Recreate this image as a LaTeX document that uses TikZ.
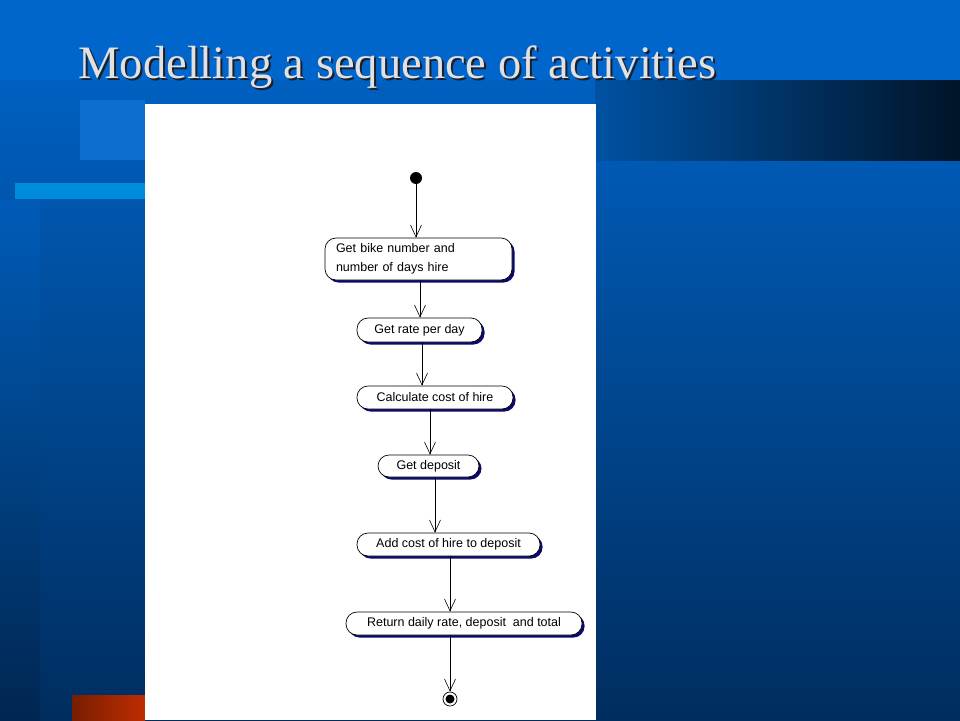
\documentclass[tikz,border=0pt]{standalone}
\usepackage{fontspec}
\setmainfont{Liberation Sans}
\newfontfamily\titlefont{Liberation Serif}
\usetikzlibrary{arrows.meta,shadows,positioning}
\definecolor{bgtop}{RGB}{0,102,204}
\definecolor{bgbot}{RGB}{0,45,95}
\definecolor{navy}{RGB}{10,10,110}
\definecolor{barend}{RGB}{0,20,40}
\definecolor{lightbar}{RGB}{0,140,220}
\definecolor{redA}{RGB}{120,30,0}
\definecolor{redB}{RGB}{190,45,0}
\definecolor{titleshadow}{RGB}{30,30,40}
\definecolor{titlecol}{RGB}{225,225,225}
\tikzset{
  act/.style={draw=black, line width=0.7pt, fill=white, rounded corners=11pt, font=\fontsize{12.5}{19}\selectfont,
    inner sep=2pt, drop shadow={shadow xshift=2.5pt, shadow yshift=-2.5pt, fill=navy, opacity=1}},
  arr/.style={draw=black, line width=0.6pt, -{Straight Barb[length=12pt,width=11pt]}},
  titlestyle/.style={anchor=base west, font=\titlefont\fontsize{46.5}{50}\selectfont}
}
\begin{document}
\begin{tikzpicture}[x=1pt,y=-1pt]
\useasboundingbox (0,0) rectangle (960,720);
% background
\shade[top color=bgtop, bottom color=bgbot] (0,0) rectangle (960,720);
\fill[bgtop] (0,0) rectangle (960,80);
\shade[top color=bgtop!90!black, bottom color=bgbot!85!black] (0,200) rectangle (40,720);
\fill[bgtop!95!white] (80,100) rectangle (145,160);
\shade[left color=bgtop!80!black, right color=barend] (595,80) rectangle (960,160);
\fill[lightbar] (15,183) rectangle (145,199);
\shade[left color=redA, right color=redB] (72,695) rectangle (145,720);
% title
\node[titlestyle, text=titleshadow] (titlesh) at (77,80) {Modelling a sequence of activities};
\node[titlestyle, text=titlecol] (title) at (75,78) {Modelling a sequence of activities};
% panel
\fill[white] (145,104) rectangle (596,720);
% nodes
\node[circle, fill=black, inner sep=0, minimum size=12pt] (start) at (416,178) {};
\node[act, minimum width=187pt, minimum height=42pt, align=left, text width=165pt] (n1) at (418.5,259) {Get bike number and\\number of days hire};
\node[act, minimum width=125pt, minimum height=24pt] (n2) at (419.5,330) {Get rate per day};
\node[act, minimum width=156pt, minimum height=23pt] (n3) at (435,397.5) {Calculate cost of hire};
\node[act, minimum width=101pt, minimum height=22pt] (n4) at (428.5,466) {Get deposit};
\node[act, minimum width=183pt, minimum height=23pt] (n5) at (448.5,544.5) {Add cost of hire to deposit};
\node[act, minimum width=236pt, minimum height=23pt] (n6) at (464,623.5) {Return daily rate, deposit\ \ and total};
\node[circle, draw=black, line width=0.7pt, fill=white, minimum size=14pt, inner sep=0] (end) at (450,699) {};
\fill[black] (end.center) circle (4.5pt);
% connectors
\coordinate (c1) at (416,0);
\coordinate (c2) at (420,0);
\coordinate (c3) at (422,0);
\coordinate (c4) at (430,0);
\coordinate (c5) at (435,0);
\coordinate (c6) at (450,0);
\draw[arr] (start) -- (n1.north -| c1);
\draw[arr] (n1.south -| c2) -- (n2.north -| c2);
\draw[arr] (n2.south -| c3) -- (n3.north -| c3);
\draw[arr] (n3.south -| c4) -- (n4.north -| c4);
\draw[arr] (n4.south -| c5) -- (n5.north -| c5);
\draw[arr] (n5.south -| c6) -- (n6.north -| c6);
\draw[arr] (n6.south -| c6) -- (end);
\end{tikzpicture}
\end{document}
